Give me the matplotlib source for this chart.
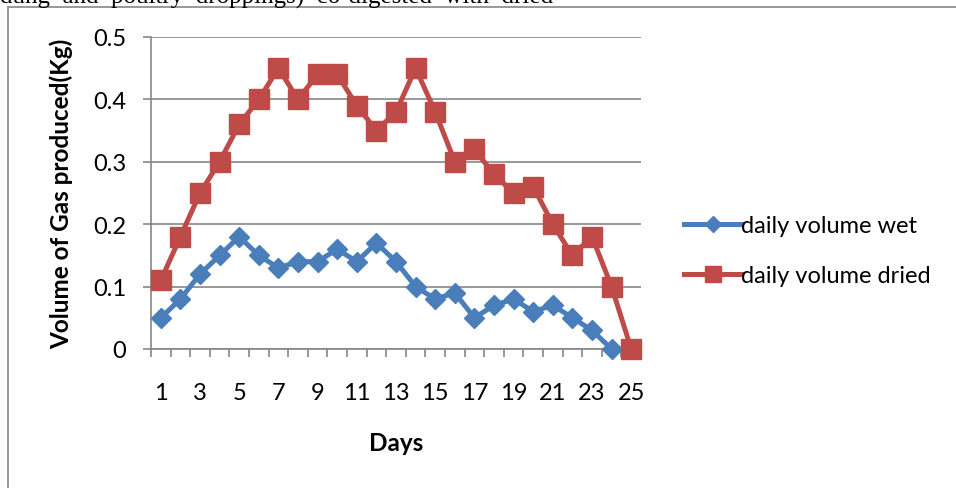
import numpy as np
import matplotlib.pyplot as plt
from matplotlib.patches import Rectangle
from matplotlib.ticker import FixedLocator, FuncFormatter

# daily gas output per day of digestion
days = list(range(1, 26))
wet = [0.05, 0.08, 0.12, 0.15, 0.18, 0.15, 0.13, 0.14, 0.14, 0.16, 0.14, 0.17, 0.14,
       0.10, 0.08, 0.09, 0.05, 0.07, 0.08, 0.06, 0.07, 0.05, 0.03, 0.00, np.nan]
dried = [0.11, 0.18, 0.25, 0.30, 0.36, 0.40, 0.45, 0.40, 0.44, 0.44, 0.39, 0.35, 0.38,
         0.45, 0.38, 0.30, 0.32, 0.28, 0.25, 0.26, 0.20, 0.15, 0.18, 0.10, 0.00]
y_ticks = [0, 0.1, 0.2, 0.3, 0.4, 0.5]

plt.rcParams['font.family'] = ['Lato', 'DejaVu Sans']

W, H = 956, 489
fig = plt.figure(figsize=(W / 100, H / 100), dpi=100)

# page text running above the chart
fig.text(0.0, 1 - 4 / H, 'dung  and  poultry  droppings)  co-digested  with  dried',
         fontsize=18, family='Liberation Serif', va='baseline', ha='left')

# chart frame
fig.patches.append(Rectangle((8 / W, -0.1), 1.2, 1 - 8 / H + 0.1, transform=fig.transFigure,
                             fill=False, edgecolor='#868686', linewidth=1.2))

ax = fig.add_axes([151 / W, 1 - 350 / H, 490 / W, 312 / H])
blue = '#4A7EBB'
red = '#BE4B48'
ax.plot(days, wet, color=blue, lw=3.6, marker='D', ms=10, label='daily volume wet',
        clip_on=False, zorder=3)
ax.plot(days, dried, color=red, lw=3.6, marker='s', ms=14, label='daily volume dried',
        clip_on=False, zorder=4)

ax.set_xlim(0.5, 25.5)
ax.set_ylim(0, 0.5)
ax.set_yticks(y_ticks)
ax.yaxis.set_major_formatter(FuncFormatter(lambda v, p: '0' if v == 0 else f'{v:.1f}'))
ax.set_xticks(days[::2])
ax.xaxis.set_minor_locator(FixedLocator(np.arange(0.5, 26, 1)))
ax.tick_params(axis='x', which='major', length=0, pad=24, labelsize=17)
ax.tick_params(axis='x', which='minor', length=6, color='#868686', width=1.2)
ax.tick_params(axis='y', length=6, color='#868686', width=1.2, pad=12, labelsize=17)

ax.grid(axis='y', color='#868686', lw=1.2)
ax.set_axisbelow(True)
for s in ['top', 'right']:
    ax.spines[s].set_visible(False)
for s in ['left', 'bottom']:
    ax.spines[s].set_color('#868686')
    ax.spines[s].set_linewidth(1.2)

ax.set_ylabel('Volume of Gas produced(Kg)', fontsize=17.5, fontweight='bold', labelpad=14)
ax.set_xlabel('Days', fontsize=17.5, fontweight='bold', labelpad=20)

ax.legend(loc='center left', bbox_to_anchor=(1.045, 0.315), frameon=False, fontsize=17,
          handlelength=2.4, handletextpad=0.0, labelspacing=1.25, markerscale=0.85)

fig.savefig('out.png', dpi=100)
